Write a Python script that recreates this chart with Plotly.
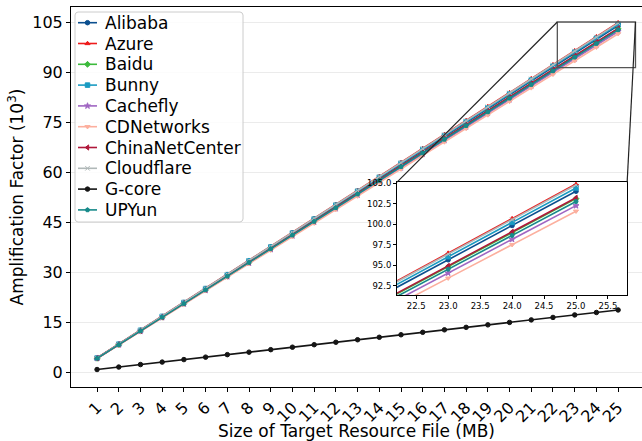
import plotly.graph_objects as go

# ---------------- data ----------------
sizes_mb = list(range(1, 26))
x_tick_labels = [str(v) for v in sizes_mb]

cdn_names = ["Alibaba", "Azure", "Baidu", "Bunny", "Cachefly", "CDNetworks",
             "ChinaNetCenter", "Cloudflare", "G-core", "UPYun"]

alibaba = [4.16, 8.32, 12.48, 16.64, 20.80, 24.96, 29.12, 33.28, 37.44, 41.60,
           45.76, 49.92, 54.08, 58.24, 62.40, 66.56, 70.72, 74.88, 79.04, 83.20,
           87.36, 91.52, 95.68, 99.84, 104.00]
azure = [4.20, 8.39, 12.59, 16.78, 20.98, 25.17, 29.37, 33.56, 37.76, 41.95,
         46.15, 50.34, 54.54, 58.73, 62.93, 67.12, 71.32, 75.51, 79.71, 83.90,
         88.10, 92.29, 96.49, 100.68, 104.88]
baidu = [4.12, 8.24, 12.36, 16.48, 20.60, 24.72, 28.84, 32.96, 37.08, 41.20,
         45.32, 49.44, 53.56, 57.68, 61.80, 65.92, 70.04, 74.16, 78.28, 82.40,
         86.52, 90.64, 94.80, 98.95, 103.10]
bunny = [4.18, 8.35, 12.53, 16.70, 20.88, 25.06, 29.23, 33.41, 37.58, 41.76,
         45.94, 50.11, 54.29, 58.46, 62.64, 66.82, 70.99, 75.17, 79.34, 83.52,
         87.70, 91.87, 96.05, 100.22, 104.40]
cachefly = [4.09, 8.18, 12.27, 16.36, 20.45, 24.54, 28.63, 32.72, 36.81, 40.90,
            44.99, 49.08, 53.17, 57.26, 61.35, 65.44, 69.53, 73.62, 77.71, 81.80,
            85.89, 89.98, 94.07, 98.16, 102.25]
cdnetworks = [4.06, 8.13, 12.19, 16.25, 20.32, 24.38, 28.44, 32.50, 36.57, 40.63,
              44.69, 48.76, 52.82, 56.88, 60.95, 65.01, 69.07, 73.13, 77.20, 81.26,
              85.32, 89.39, 93.45, 97.51, 101.58]
chinanetcenter = [4.13, 8.26, 12.38, 16.51, 20.64, 24.77, 28.90, 33.02, 37.15, 41.28,
                  45.41, 49.54, 53.66, 57.79, 61.92, 66.05, 70.18, 74.30, 78.43, 82.56,
                  86.69, 90.82, 94.94, 99.07, 103.20]
cloudflare = [4.19, 8.38, 12.57, 16.76, 20.95, 25.14, 29.33, 33.52, 37.71, 41.90,
              46.09, 50.28, 54.47, 58.66, 62.85, 67.04, 71.23, 75.42, 79.61, 83.80,
              87.99, 92.18, 96.37, 100.56, 104.75]
gcore = [0.75, 1.49, 2.24, 2.98, 3.73, 4.47, 5.22, 5.96, 6.71, 7.45,
         8.20, 8.94, 9.69, 10.43, 11.18, 11.92, 12.67, 13.41, 14.16, 14.90,
         15.65, 16.39, 17.14, 17.88, 18.63]
upyun = [4.11, 8.22, 12.33, 16.44, 20.55, 24.66, 28.77, 32.88, 36.99, 41.10,
         45.21, 49.32, 53.43, 57.54, 61.65, 65.76, 69.87, 73.98, 78.09, 82.20,
         86.31, 90.42, 94.53, 98.64, 102.75]

series_values = [alibaba, azure, baidu, bunny, cachefly, cdnetworks,
                 chinanetcenter, cloudflare, gcore, upyun]

y_tick_vals = [0, 15, 30, 45, 60, 75, 90, 105]
inset_x_ticks = [22.5, 23.0, 23.5, 24.0, 24.5, 25.0, 25.5]
inset_y_ticks = [92.5, 95.0, 97.5, 100.0, 102.5, 105.0]

# ---------------- styles ----------------
colors = ["#0b4f8f", "#ee1c1c", "#3cba3c", "#1a9bc2", "#a066c2", "#fcaf9e",
          "#b0173a", "#b0b8b8", "#151515", "#168a8a"]
symbols = ["circle", "triangle-up", "diamond", "square", "star", "triangle-down",
           "triangle-left", "x-thin-open", "circle", "pentagon"]
FONT = "DejaVu Sans"
MSIZE = 4.5

W, H = 642, 441
ML, MR, MT, MB = 71, 0, 7, 54
PW, PH = W - ML - MR, H - MT - MB
X_RANGE = [-0.2, 26.1]
Y_RANGE = [-4.5, 109.6]
INSET_X = [22.2, 25.8]
INSET_Y = [91.4, 105.1]
INSET_DOM_X = [0.571, 0.974]
INSET_DOM_Y = [0.242, 0.539]

fig = go.Figure()

for name, vals, c, s in zip(cdn_names, series_values, colors, symbols):
    fig.add_trace(go.Scatter(
        x=sizes_mb, y=vals, name=name, mode="lines+markers", showlegend=False,
        line=dict(color=c, width=1.6),
        marker=dict(symbol=s, size=MSIZE, color=c, line=dict(color=c, width=1)),
        xaxis="x", yaxis="y"))

for name, vals, c, s in zip(cdn_names, series_values, colors, symbols):
    fig.add_trace(go.Scatter(
        x=sizes_mb, y=vals, name=name, mode="lines+markers", showlegend=False,
        line=dict(color=c, width=1.6),
        marker=dict(symbol=s, size=MSIZE, color=c, line=dict(color=c, width=1)),
        xaxis="x2", yaxis="y2"))

# ---------------- legend (drawn in pixel units on an overlay axis) ----------------
LEG_X0, LEG_X1, LEG_Y0, LEG_Y1 = 4, 172, 5, 215
ROW0, ROW_STEP = 15.7, 20.8
SAMPLE_X0, SAMPLE_X1, TEXT_X = 7, 26, 32
rc = 3
box_x = [LEG_X0 + rc, LEG_X1 - rc, LEG_X1 - 0.9, LEG_X1, LEG_X1, LEG_X1 - 0.9,
         LEG_X1 - rc, LEG_X0 + rc, LEG_X0 + 0.9, LEG_X0, LEG_X0, LEG_X0 + 0.9,
         LEG_X0 + rc]
box_y = [LEG_Y0, LEG_Y0, LEG_Y0 + 0.9, LEG_Y0 + rc, LEG_Y1 - rc, LEG_Y1 - 0.9,
         LEG_Y1, LEG_Y1, LEG_Y1 - 0.9, LEG_Y1 - rc, LEG_Y0 + rc, LEG_Y0 + 0.9,
         LEG_Y0]
fig.add_trace(go.Scatter(
    x=box_x, y=box_y, mode="lines", fill="toself",
    fillcolor="rgba(255,255,255,0.85)", line=dict(color="#cccccc", width=1),
    showlegend=False, hoverinfo="skip", xaxis="x3", yaxis="y3"))

for i, (name, c, s) in enumerate(zip(cdn_names, colors, symbols)):
    yrow = ROW0 + i * ROW_STEP
    fig.add_trace(go.Scatter(
        x=[SAMPLE_X0, SAMPLE_X1], y=[yrow, yrow], mode="lines",
        line=dict(color=c, width=1.6), showlegend=False, hoverinfo="skip",
        xaxis="x3", yaxis="y3"))
    fig.add_trace(go.Scatter(
        x=[(SAMPLE_X0 + SAMPLE_X1) / 2], y=[yrow], mode="markers",
        marker=dict(symbol=s, size=MSIZE, color=c, line=dict(color=c, width=1)),
        showlegend=False, hoverinfo="skip", xaxis="x3", yaxis="y3"))
    fig.add_annotation(x=TEXT_X, y=yrow, xref="x3", yref="y3", text=name,
                       showarrow=False, xanchor="left", yanchor="middle",
                       font=dict(family=FONT, size=17, color="black"))

def px(v):
    return (v - X_RANGE[0]) / (X_RANGE[1] - X_RANGE[0])

def py(v):
    return (v - Y_RANGE[0]) / (Y_RANGE[1] - Y_RANGE[0])

# zoom rectangle in main axes
fig.add_shape(type="rect", xref="x", yref="y",
              x0=INSET_X[0], x1=INSET_X[1], y0=INSET_Y[0], y1=INSET_Y[1],
              line=dict(color="#555555", width=1.3), layer="above")
# connector lines
fig.add_shape(type="line", xref="paper", yref="paper",
              x0=px(INSET_X[0]), y0=py(INSET_Y[1]),
              x1=INSET_DOM_X[0], y1=INSET_DOM_Y[1],
              line=dict(color="#222222", width=1.2), layer="above")
fig.add_shape(type="line", xref="paper", yref="paper",
              x0=px(INSET_X[1]), y0=py(INSET_Y[1]),
              x1=INSET_DOM_X[1], y1=INSET_DOM_Y[1],
              line=dict(color="#222222", width=1.2), layer="above")

fig.update_layout(
    width=W, height=H,
    margin=dict(l=ML, r=MR, t=MT, b=MB, autoexpand=False),
    paper_bgcolor="white", plot_bgcolor="white",
    font=dict(family=FONT, color="black", size=16),
    showlegend=False,
    xaxis=dict(domain=[0, 1], range=X_RANGE, tickmode="array",
               tickvals=sizes_mb, ticktext=x_tick_labels, tickangle=-45,
               ticks="outside", ticklen=4, tickcolor="black",
               showline=True, linecolor="black", linewidth=1, mirror=True,
               showgrid=False, zeroline=False, automargin=False,
               tickfont=dict(size=16),
               title=dict(text="Size of Target Resource File (MB)",
                          font=dict(size=17), standoff=0)),
    yaxis=dict(domain=[0, 1], range=Y_RANGE, tickmode="array",
               tickvals=y_tick_vals, ticks="outside", ticklen=4,
               tickcolor="black", showline=True, linecolor="black",
               linewidth=1, mirror=False, showgrid=True,
               gridcolor="#ebebeb", gridwidth=1, zeroline=False,
               automargin=False, tickfont=dict(size=16),
               title=dict(text="Amplification Factor (10<sup>3</sup>)",
                          font=dict(size=17), standoff=4)),
    xaxis2=dict(domain=INSET_DOM_X, anchor="y2", range=INSET_X,
                tickmode="array", tickvals=inset_x_ticks,
                ticktext=[f"{v:.1f}" for v in inset_x_ticks],
                ticks="outside", ticklen=3, tickcolor="black",
                showline=True, linecolor="black", linewidth=1, mirror=True,
                showgrid=False, zeroline=False, tickfont=dict(size=8.5)),
    yaxis2=dict(domain=INSET_DOM_Y, anchor="x2", range=INSET_Y,
                tickmode="array", tickvals=inset_y_ticks,
                ticktext=[f"{v:.1f}" for v in inset_y_ticks],
                ticks="outside", ticklen=3, tickcolor="black",
                showline=True, linecolor="black", linewidth=1, mirror=True,
                showgrid=False, zeroline=False, tickfont=dict(size=8.5)),
    xaxis3=dict(overlaying="x", range=[0, PW], visible=False,
                showgrid=False, zeroline=False),
    yaxis3=dict(overlaying="y", range=[PH, 0], visible=False,
                showgrid=False, zeroline=False),
)

fig.write_html("out.html",
               config={"displayModeBar": False},
               post_script="document.body.style.margin='0';"
                           "document.body.style.overflow='hidden';")
